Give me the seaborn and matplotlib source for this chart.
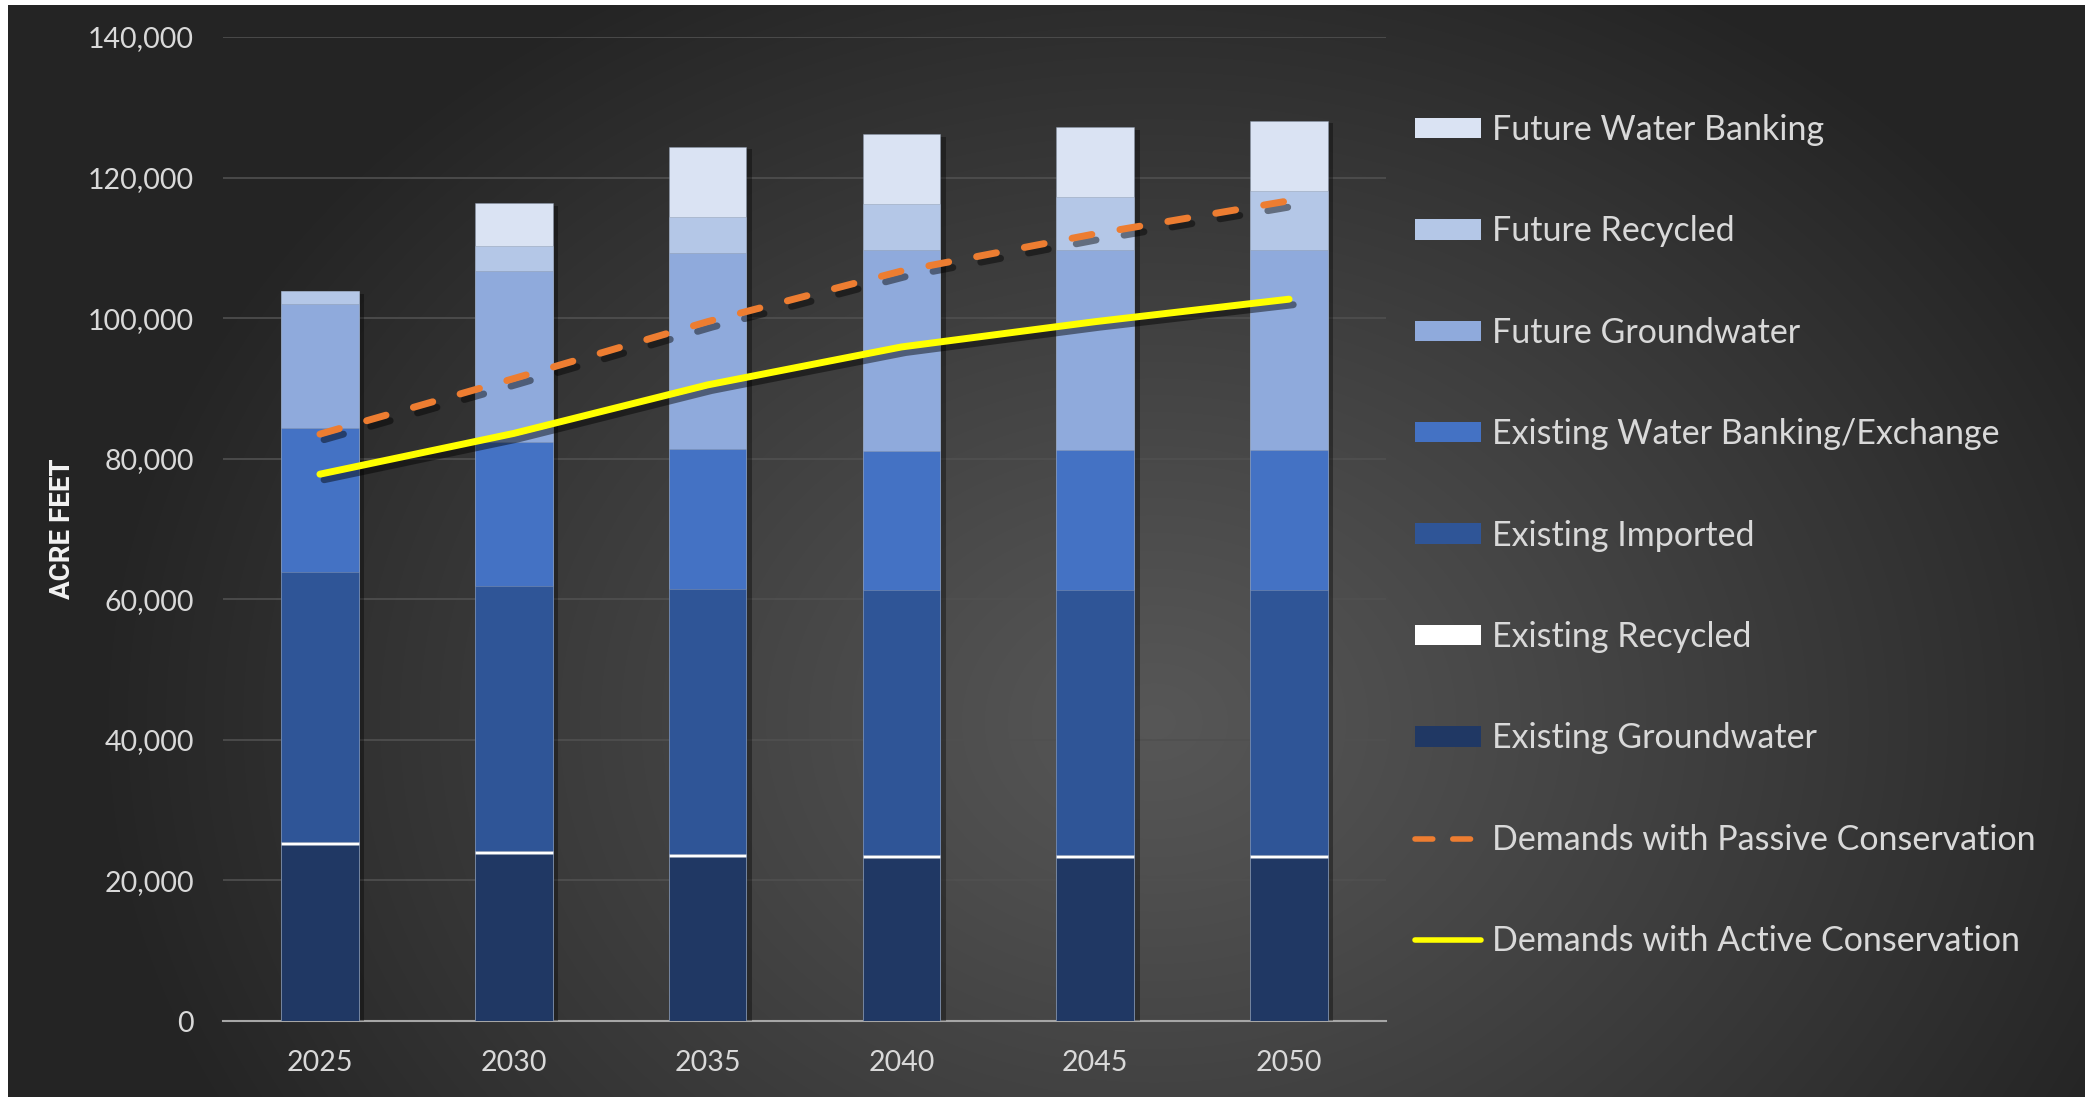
import numpy as np
import matplotlib
matplotlib.use('Agg')
import matplotlib.pyplot as plt
import matplotlib.patheffects as pe
from matplotlib.patches import Patch
from matplotlib.lines import Line2D
from matplotlib.ticker import FuncFormatter
import seaborn as sns

# Data (acre feet)
years = ['2025', '2030', '2035', '2040', '2045', '2050']
existing_groundwater = [25000, 23800, 23350, 23150, 23150, 23150]
existing_recycled = [400, 400, 400, 400, 400, 400]
existing_imported = [38500, 37700, 37750, 37750, 37750, 37750]
existing_banking = [20400, 20500, 19950, 19850, 19900, 19900]
future_groundwater = [17700, 24300, 27850, 28550, 28500, 28500]
future_recycled = [1800, 3600, 5100, 6500, 7500, 8400]
future_banking = [0, 6050, 10000, 10000, 10000, 10000]
passive_demand = [83500, 91400, 99500, 106700, 112000, 116700]
active_demand = [77800, 83600, 90500, 95900, 99500, 102700]

# bottom -> top
series = [existing_groundwater, existing_recycled, existing_imported, existing_banking,
          future_groundwater, future_recycled, future_banking]
labels = ['Existing Groundwater', 'Existing Recycled', 'Existing Imported',
          'Existing Water Banking/Exchange', 'Future Groundwater', 'Future Recycled',
          'Future Water Banking']
colors = ['#203864', '#ffffff', '#2f5597', '#4472c4', '#8faadc', '#b4c7e7', '#dae3f3']

sns.set_style('white')
plt.rcParams['font.family'] = ['Lato', 'DejaVu Sans']
txt = '#d9d9d9'

W, H = 2085, 1097
fig = plt.figure(figsize=(W / 100, H / 100), dpi=100, facecolor='white')

# radial gradient background
bg = fig.add_axes([8 / W, 0, 1 - 8 / W, 1 - 5 / H], zorder=-5)
yy, xx = np.mgrid[0:H, 0:W]
d = np.sqrt((xx - 1150) ** 2 + ((yy - 720) * 1.25) ** 2) / 1050
t = np.clip(d, 0, 1) ** 1.1
grey = 0.34 * (1 - t) + 0.145 * t
bg.imshow(np.dstack([grey, grey, grey]), aspect='auto', extent=(0, 1, 0, 1))
bg.axis('off')

ax = fig.add_axes([223 / W, 76 / H, (1386 - 223) / W, (1021 - 37) / H], zorder=2)
ax.set_facecolor('none')

# stacked bars: draw cumulative totals from the top down
cum = np.cumsum(np.array(series), axis=0)
for i in range(len(series) - 1, -1, -1):
    sns.barplot(x=years, y=cum[i], color=colors[i], saturation=1, width=0.4,
                edgecolor=(0.55, 0.6, 0.68, 0.45), linewidth=0.7, ax=ax, zorder=3)
n = len(years)
for p in ax.patches[:n]:
    p.set_path_effects([pe.SimplePatchShadow(offset=(4, -2), shadow_rgbFace='black', alpha=0.35),
                        pe.Normal()])

pos = np.arange(n)
shadow = [pe.SimpleLineShadow(offset=(3, -4), shadow_color='black', alpha=0.45), pe.Normal()]
sns.lineplot(x=pos, y=passive_demand, color='#ed7d31', linewidth=5,
             linestyle=(0, (2.9, 4.1)), dash_capstyle='round', ax=ax, zorder=5,
             path_effects=shadow)
sns.lineplot(x=pos, y=active_demand, color='#ffff00', linewidth=5,
             solid_capstyle='round', solid_joinstyle='round', ax=ax, zorder=6,
             path_effects=shadow)

ax.set_xlim(-0.5, n - 0.5)
ax.set_ylim(0, 140000)
ax.set_yticks(range(0, 140001, 20000))
ax.yaxis.set_major_formatter(FuncFormatter(lambda v, _: f'{int(v):,}'))
ax.grid(axis='y', color='#505050', linewidth=1.2, zorder=0)
ax.set_axisbelow(True)
for s in ['top', 'right', 'left']:
    ax.spines[s].set_visible(False)
ax.spines['bottom'].set_color('#a6a6a6')
ax.spines['bottom'].set_linewidth(1.5)
ax.set_xticks(np.arange(-0.5, n, 1), minor=True)
ax.tick_params(axis='x', which='major', length=0, pad=21, labelsize=20.5, labelcolor=txt)
ax.tick_params(axis='x', which='minor', length=6, width=1.5, color='#a6a6a6')
ax.tick_params(axis='y', length=0, pad=21, labelsize=20.5, labelcolor=txt)
ax.set_xlabel('')
ax.set_ylabel('')

fig.text(62 / W, 1 - 529 / H, 'ACRE FEET', rotation=90, ha='center', va='center',
         color='#f2f2f2', fontsize=20, fontweight='bold',
         family=['Liberation Sans Narrow', 'Roboto', 'DejaVu Sans'])

handles = [Patch(facecolor=c, edgecolor='none') for c in colors[::-1]]
handles += [Line2D([], [], color='#ed7d31', linewidth=4, linestyle=(0, (3.2, 3.6)),
                   dash_capstyle='round'),
            Line2D([], [], color='#ffff00', linewidth=4, solid_capstyle='round')]
leg_labels = labels[::-1] + ['Demands with Passive Conservation',
                             'Demands with Active Conservation']
fig.legend(handles, leg_labels, loc='upper left', bbox_to_anchor=(1415 / W, 1 - 114 / H),
           frameon=False, fontsize=24.5, labelcolor=txt, handlelength=1.95, handleheight=0.55,
           handletextpad=0.3, labelspacing=2.04, borderaxespad=0, borderpad=0)

fig.savefig('out.png', dpi=100, facecolor='white')
